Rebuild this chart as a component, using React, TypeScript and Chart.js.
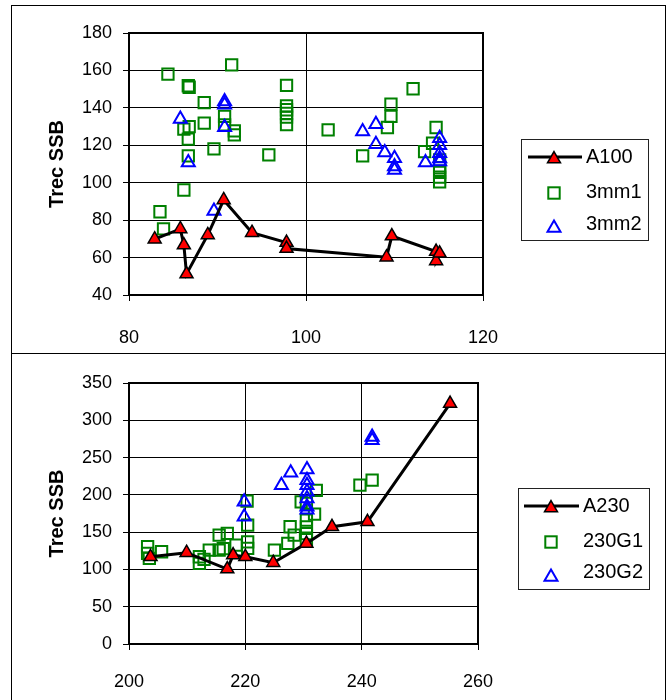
import React, { useEffect, useRef } from "react";
import { Chart, registerables } from "chart.js";
Chart.register(...registerables);

const FONT = "'Liberation Sans', Arial, Helvetica, sans-serif";

// ---------- top chart data ----------
const a100X = [82.9, 85.8, 86.2, 86.5, 88.9, 90.7, 93.9, 97.8, 97.8, 109.1, 109.7, 114.7, 114.7, 115.1];
const a100Y = [69.8, 75.3, 66.7, 51.2, 72.1, 90.8, 73.3, 68.0, 64.8, 60.2, 71.5, 63.2, 58.2, 62.3];

const mm1X = [84.4, 91.6, 86.7, 86.8, 88.5, 97.8, 97.8, 97.8, 97.8, 97.8, 97.8, 90.8, 90.8, 88.5, 86.2, 86.8, 86.7, 91.9, 91.9, 89.6, 86.7, 95.8, 86.2, 83.5, 83.9, 102.5, 112.1, 109.6, 109.6, 109.2, 106.4, 114.7, 114.3, 113.4, 115.1, 115.1, 115.1, 115.1, 115.1];
const mm1Y = [158.0, 163.0, 151.8, 151.0, 142.8, 152.0, 141.0, 139.0, 137.0, 135.0, 131.0, 135.4, 130.9, 131.8, 128.6, 130.0, 123.3, 127.7, 125.6, 118.1, 114.3, 114.9, 96.1, 84.5, 75.3, 128.2, 150.2, 142.0, 135.4, 129.5, 114.3, 129.5, 121.1, 116.6, 112.2, 108.0, 105.5, 103.0, 100.5];

const mm2X = [90.8, 90.8, 85.8, 90.8, 86.7, 89.6, 107.9, 106.4, 107.9, 108.9, 110.0, 110.0, 110.0, 113.5, 115.1, 115.1, 115.1, 115.1, 115.1];
const mm2Y = [143.4, 141.6, 134.0, 129.7, 110.8, 84.9, 131.3, 127.3, 120.6, 116.1, 113.1, 108.6, 106.8, 110.8, 123.8, 120.0, 115.8, 113.0, 111.3];

// ---------- bottom chart data ----------
const a230X = [203.7, 209.9, 216.9, 217.9, 220.0, 224.8, 230.5, 234.9, 241.0, 255.2];
const a230Y = [117.0, 122.4, 100.5, 119.2, 117.0, 109.0, 134.9, 157.2, 163.9, 322.4];

const g1X = [203.2, 203.2, 203.5, 205.6, 212.1, 212.1, 212.9, 213.8, 215.5, 216.9, 215.5, 216.2, 218.4, 220.4, 220.4, 220.4, 220.3, 225.0, 227.7, 227.3, 228.4, 229.6, 230.5, 230.5, 230.5, 230.5, 230.5, 231.9, 232.2, 239.7, 241.8];
const g1Y = [130.4, 121.5, 114.8, 123.7, 117.0, 108.0, 113.5, 126.0, 146.0, 148.3, 126.0, 128.0, 132.6, 159.4, 137.0, 128.2, 191.5, 126.0, 157.2, 134.9, 146.0, 190.6, 166.0, 157.0, 148.0, 140.0, 188.5, 174.2, 206.0, 213.0, 219.7];

const g2X = [219.8, 219.8, 226.2, 227.8, 230.6, 230.6, 230.6, 230.6, 230.6, 230.6, 230.6, 241.8, 241.8];
const g2Y = [190.6, 170.5, 213.0, 229.5, 234.0, 219.7, 213.0, 204.0, 195.0, 184.0, 180.0, 277.7, 273.3];

const topLabels = ["A100", "3mm1", "3mm2"];
const bottomLabels = ["A230", "230G1", "230G2"];
const yTitle = "Trec SSB";

const toPts = (xs: number[], ys: number[]) => xs.map((x, i) => ({ x, y: ys[i] }));

function drawTri(ctx: CanvasRenderingContext2D, x: number, y: number, r: number, fill: string | null, stroke: string, lw: number) {
  const s = Math.sin((2 * Math.PI) / 3) * r;
  ctx.beginPath();
  ctx.moveTo(x, y - r);
  ctx.lineTo(x + s, y + r / 2);
  ctx.lineTo(x - s, y + r / 2);
  ctx.closePath();
  if (fill) {
    ctx.fillStyle = fill;
    ctx.fill();
  }
  ctx.strokeStyle = stroke;
  ctx.lineWidth = lw;
  ctx.stroke();
}

const framePlugin = {
  id: "frame",
  beforeDatasetsDraw(chart: any) {
    const { ctx, chartArea: a } = chart;
    ctx.save();
    ctx.strokeStyle = "#000";
    ctx.lineWidth = 2;
    ctx.strokeRect(a.left, a.top, a.right - a.left, a.bottom - a.top);
    ctx.restore();
  },
};

type Box = { x: number; y: number; w: number; h: number; l1: number; l2: number; mx: number; tx: number; ty: number[]; my: number[] };

function makeLegendPlugin(labels: string[], b: Box) {
  return {
    id: "boxLegend",
    afterDraw(chart: any) {
      const ctx: CanvasRenderingContext2D = chart.ctx;
      ctx.save();
      ctx.strokeStyle = "#222";
      ctx.lineWidth = 1;
      ctx.strokeRect(b.x + 0.5, b.y + 0.5, b.w, b.h);
      // row 1: line + red triangle
      ctx.beginPath();
      ctx.moveTo(b.x + b.l1, b.y + b.ty[0]);
      ctx.lineTo(b.x + b.l2, b.y + b.ty[0]);
      ctx.strokeStyle = "#000";
      ctx.lineWidth = 3;
      ctx.stroke();
      drawTri(ctx, b.x + b.mx, b.y + b.my[0], 7.5, "#ff0000", "#000", 1.5);
      // row 2: green square
      ctx.strokeStyle = "#008000";
      ctx.lineWidth = 2;
      ctx.strokeRect(b.x + b.mx - 5.7, b.y + b.my[1] - 5.7, 11.4, 11.4);
      // row 3: blue triangle
      drawTri(ctx, b.x + b.mx, b.y + b.my[2], 7.5, null, "#0000ff", 2);
      ctx.fillStyle = "#000";
      ctx.font = `20px ${FONT}`;
      ctx.textBaseline = "middle";
      ctx.textAlign = "left";
      labels.forEach((t, i) => ctx.fillText(t, b.x + b.tx, b.y + b.ty[i]));
      ctx.restore();
    },
  };
}

function makeConfig(p: any) {
  return {
    type: "scatter",
    data: {
      datasets: [
        {
          label: p.labels[0],
          data: p.line,
          showLine: true,
          borderColor: "#000",
          borderWidth: 3,
          pointStyle: "triangle",
          pointRadius: 7.5,
          pointBackgroundColor: "#ff0000",
          pointBorderColor: "#000",
          pointBorderWidth: 1.5,
          order: 0,
        },
        {
          label: p.labels[1],
          data: p.sq,
          pointStyle: "rect",
          pointRadius: 8,
          pointBackgroundColor: "rgba(0,0,0,0)",
          pointBorderColor: "#008000",
          pointBorderWidth: 2,
          order: 2,
        },
        {
          label: p.labels[2],
          data: p.tri,
          pointStyle: "triangle",
          pointRadius: 7.5,
          pointBackgroundColor: "rgba(0,0,0,0)",
          pointBorderColor: "#0000ff",
          pointBorderWidth: 2,
          order: 1,
        },
      ],
    },
    options: {
      responsive: false,
      animation: false,
      events: [],
      layout: { padding: p.pad },
      plugins: { legend: { display: false }, tooltip: { enabled: false } },
      scales: {
        x: {
          type: "linear",
          position: "bottom",
          min: p.xMin,
          max: p.xMax,
          ticks: { stepSize: p.xStep, color: "#000", font: { family: FONT, size: 18 }, padding: p.xTickPad, maxRotation: 0, autoSkip: false },
          grid: { color: "#000", lineWidth: 1, tickLength: 6, tickColor: "#000" },
          border: { display: false },
          afterFit: (s: any) => {
            s.height = p.xH;
          },
        },
        y: {
          type: "linear",
          min: p.yMin,
          max: p.yMax,
          ticks: { stepSize: p.yStep, color: "#000", font: { family: FONT, size: 18 }, padding: 11, autoSkip: false },
          grid: { color: "#000", lineWidth: 1, tickLength: 6, tickColor: "#000" },
          border: { display: false },
          title: { display: true, text: yTitle, color: "#000", font: { family: FONT, size: 20, weight: "bold" }, padding: 0 },
          afterFit: (s: any) => {
            s.width = 84;
          },
        },
      },
    },
    plugins: [framePlugin, makeLegendPlugin(p.labels, p.legend)],
  };
}

function Panel({ config, top, height }: { config: any; top: number; height: number }) {
  const ref = useRef<HTMLCanvasElement | null>(null);
  useEffect(() => {
    const chart = new Chart(ref.current as HTMLCanvasElement, config);
    return () => chart.destroy();
  }, []);
  return (
    <div
      style={{
        position: "absolute",
        left: 11,
        top,
        width: 655,
        height,
        border: "1px solid #000",
        boxSizing: "border-box",
        background: "#fff",
      }}
    >
      <canvas ref={ref} width={653} height={height - 2} style={{ display: "block", width: 653, height: height - 2 }} />
    </div>
  );
}

const topConfig = makeConfig({
  labels: topLabels,
  line: toPts(a100X, a100Y),
  sq: toPts(mm1X, mm1Y),
  tri: toPts(mm2X, mm2Y),
  xMin: 80,
  xMax: 120,
  xStep: 20,
  yMin: 40,
  yMax: 180,
  yStep: 20,
  pad: { left: 33, top: 27, right: 182, bottom: 0 },
  xH: 58,
  xTickPad: 26,
  legend: { x: 509, y: 133, w: 127, h: 101, l1: 7, l2: 61, mx: 33, tx: 65, ty: [18, 53, 85], my: [20, 54, 89] },
});

const bottomConfig = makeConfig({
  labels: bottomLabels,
  line: toPts(a230X, a230Y),
  sq: toPts(g1X, g1Y),
  tri: toPts(g2X, g2Y),
  xMin: 200,
  xMax: 260,
  xStep: 20,
  yMin: 0,
  yMax: 350,
  yStep: 50,
  pad: { left: 33, top: 29, right: 187, bottom: 0 },
  xH: 57,
  xTickPad: 21,
  legend: { x: 506, y: 134, w: 131, h: 101, l1: 6, l2: 61, mx: 33, tx: 65, ty: [18, 53, 84], my: [20, 54, 89] },
});

export default function App() {
  useEffect(() => {
    document.documentElement.style.overflow = "hidden";
    document.body.style.overflow = "hidden";
  }, []);
  return (
    <div style={{ position: "absolute", left: 0, top: 0, width: 667, height: 700, overflow: "hidden", background: "#fff" }}>
      <Panel config={topConfig} top={5} height={349} />
      <Panel config={bottomConfig} top={353} height={349} />
    </div>
  );
}
